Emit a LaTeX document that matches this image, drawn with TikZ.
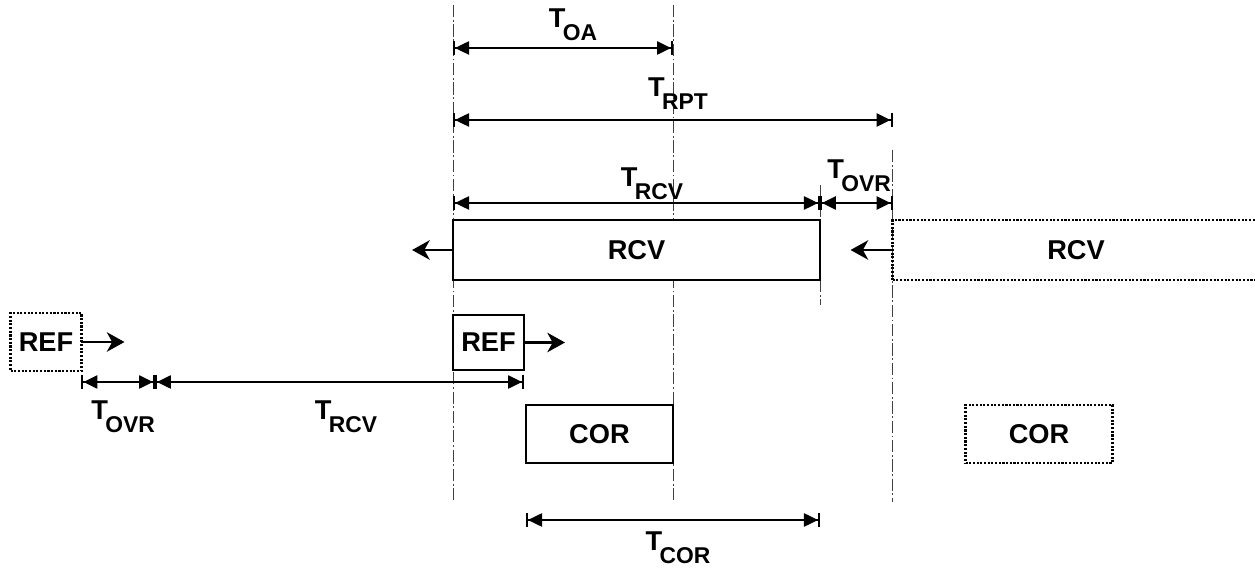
\documentclass[tikz,border=0pt]{standalone}
\usepackage{fontspec}
\setmainfont{Liberation Sans}
\usetikzlibrary{arrows.meta,positioning}
\colorlet{ink}{black}
\colorlet{guideInk}{black!75}
\newcommand{\SlotFont}{\fontsize{15.5}{16}\selectfont\bfseries}
\newcommand{\TimeLabel}[1]{%
  {\fontsize{15.5}{15}\selectfont\bfseries T}\kern-1.5pt\raisebox{-7.5pt}{\fontsize{13}{13}\selectfont\bfseries #1}%
}
\tikzset{
  dim/.style={
    {Bar[width=8pt]Triangle[length=8pt,width=7.5pt]}-{Triangle[length=8pt,width=7.5pt]Bar[width=8pt]},
    draw=ink,
    line width=1.1pt
  },
  push/.style={-{Stealth[length=10pt,width=11pt,inset=3pt]}, draw=ink, line width=1.7pt},
  guide/.style={draw=guideInk, line width=0.5pt, dash pattern=on 7pt off 1.5pt on 1pt off 1.5pt},
  slot/.style={
    draw=ink,
    fill=white,
    line width=1.6pt,
    inner sep=0pt,
    outer sep=0pt,
    font=\SlotFont
  },
  ghost/.style={slot, line width=1.2pt, dash pattern=on 1.2pt off 0.9pt},
  tlabel/.style={inner sep=0pt, text=ink}
}

\begin{document}
\begin{tikzpicture}[x=0.02cm,y=-0.02cm]
  \useasboundingbox (0,0) rectangle (1255,570);

  % levels and marks
  \coordinate (gTop) at (0,5);
  \coordinate (gBot) at (0,502);
  \coordinate (oaMark) at (673,5);
  \coordinate (rptMark) at (892,150);
  \coordinate (lvOA) at (0,48);
  \coordinate (lvRPT) at (0,120);
  \coordinate (lvRCV) at (0,203);
  \coordinate (lvREF) at (0,382);
  \coordinate (lvCOR) at (0,520);
  \coordinate (ovrEnd) at (155,382);

  % guide lines
  \draw[guide] (453,5) -- (453,502);
  \draw[guide] (oaMark) -- (oaMark |- gBot);
  \draw[guide] (rptMark) -- (rptMark |- gBot);
  \draw[guide] (820,185) -- (820,220);
  \draw[guide] (820,280) -- (820,305);

  \node[slot, minimum width=7.34cm, minimum height=1.2cm] (rcv) at (636.5,250) {RCV};
  \node[ghost, minimum width=7.34cm, minimum height=1.2cm] (rcvNext) at (1076,250) {RCV};
  \node[slot, minimum width=1.42cm, minimum height=1.1cm] (ref) at (488.5,342.5) {REF};
  \node[ghost, minimum width=1.42cm, minimum height=1.16cm] (refPrev) at (46,342) {REF};
  \node[slot, minimum width=2.94cm, minimum height=1.16cm] (cor) at (599.5,434) {COR};
  \node[ghost, minimum width=2.94cm, minimum height=1.16cm] (corNext) at (1039,434) {COR};

  \coordinate[left=8.2mm of rcv] (rcvOut);
  \coordinate[left=8.4mm of rcvNext] (rcvNextOut);
  \coordinate[right=8.2mm of ref] (refOut);
  \coordinate[right=8.6mm of refPrev] (refPrevOut);

  \draw[push] (rcv.west) -- (rcvOut);
  \draw[push] (rcvNext.west) -- (rcvNextOut);
  \draw[push] (ref.east) -- (refOut);
  \draw[push] (refPrev.east) -- (refPrevOut);

  % time spans
  \draw[dim] (rcv.west |- lvOA) -- (oaMark |- lvOA);
  \draw[dim] (rcv.west |- lvRPT) -- (rcvNext.west |- lvRPT);
  \draw[dim] (rcv.west |- lvRCV) -- (rcv.east |- lvRCV);
  \draw[dim] (rcv.east |- lvRCV) -- (rcvNext.west |- lvRCV);
  \draw[dim] (refPrev.east |- lvREF) -- (ovrEnd);
  \draw[dim] (ovrEnd) -- (ref.east |- lvREF);
  \draw[dim] (cor.west |- lvCOR) -- (rcv.east |- lvCOR);

  \node[tlabel] (labOA) at (573,25) {\TimeLabel{OA}};
  \node[tlabel] (labRPT) at (678,94) {\TimeLabel{RPT}};
  \node[tlabel] (labRCV) at (652,184) {\TimeLabel{RCV}};
  \node[tlabel] (labOVR) at (859,176) {\TimeLabel{OVR}};
  \node[tlabel] (labOVRb) at (123,417) {\TimeLabel{OVR}};
  \node[tlabel] (labRCVb) at (346,417) {\TimeLabel{RCV}};
  \node[tlabel] (labCOR) at (678,548) {\TimeLabel{COR}};
\end{tikzpicture}
\end{document}
